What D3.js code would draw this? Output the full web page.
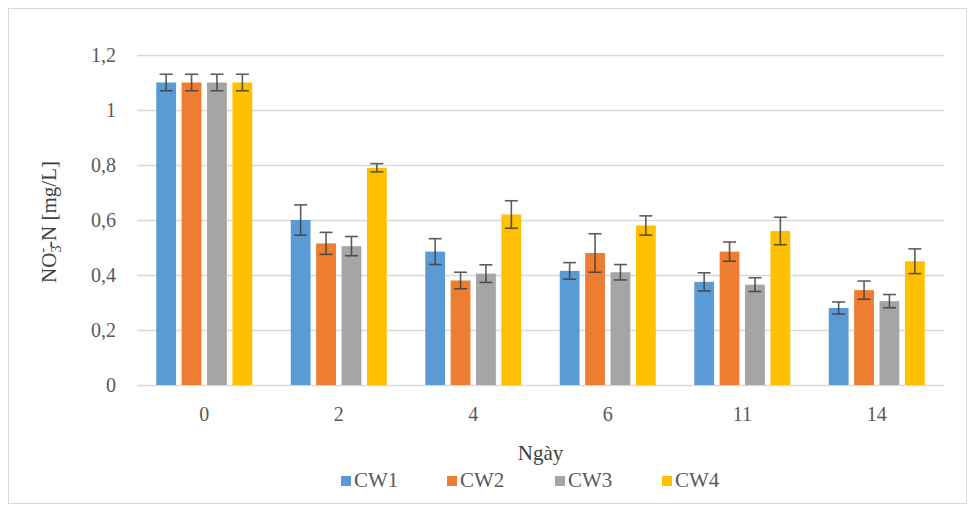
<!DOCTYPE html>
<html>
<head>
<meta charset="utf-8">
<script src="https://cdn.jsdelivr.net/npm/d3@7"></script>
<style>
  html, body { margin: 0; padding: 0; background: #fff; }
  svg { display: block; }
  svg text { font-family: "Liberation Serif", "DejaVu Serif", serif !important; }
</style>
</head>
<body>
<svg id="chart" width="969" height="509"></svg>
<script>
// Sampling days (x categories)
const days = ["0", "2", "4", "6", "11", "14"];
// Wetland series names
const seriesNames = ["CW1", "CW2", "CW3", "CW4"];
// NO3--N concentration (mg/L) per series, one value per day
const cw1 = [1.10, 0.60, 0.485, 0.415, 0.375, 0.28];
const cw2 = [1.10, 0.515, 0.38, 0.48, 0.485, 0.345];
const cw3 = [1.10, 0.505, 0.405, 0.41, 0.365, 0.305];
const cw4 = [1.10, 0.79, 0.62, 0.58, 0.56, 0.45];
// Standard deviations for the error bars
const cw1Err = [0.03, 0.055, 0.047, 0.03, 0.033, 0.022];
const cw2Err = [0.03, 0.04, 0.03, 0.07, 0.035, 0.033];
const cw3Err = [0.03, 0.035, 0.032, 0.028, 0.025, 0.024];
const cw4Err = [0.03, 0.015, 0.05, 0.035, 0.05, 0.045];
// Y axis tick values and their labels
const yTicks = [0, 0.2, 0.4, 0.6, 0.8, 1.0, 1.2];
const yTickLabels = ["0", "0,2", "0,4", "0,6", "0,8", "1", "1,2"];

const colors = ["#5B9BD5", "#ED7D31", "#A5A5A5", "#FFC000"];
const values = [cw1, cw2, cw3, cw4];
const errors = [cw1Err, cw2Err, cw3Err, cw4Err];
const serif = "'Liberation Serif', 'DejaVu Serif', serif";

const svg = d3.select("#chart");

// outer chart frame
svg.append("rect")
  .attr("x", 8.5).attr("y", 8.5)
  .attr("width", 958).attr("height", 495)
  .attr("fill", "#fff").attr("stroke", "#d9d9d9").attr("stroke-width", 1);

const plot = { left: 137, right: 944, top: 55, bottom: 385 };

const x0 = d3.scaleBand().domain(days).range([plot.left, plot.right]).paddingInner(0).paddingOuter(0);
const groupWidth = 96;
const x1 = d3.scaleBand().domain(seriesNames).range([0, groupWidth]).paddingInner(0.22).paddingOuter(0);
const y = d3.scaleLinear().domain([0, 1.2]).range([plot.bottom, plot.top]);

// horizontal gridlines
svg.append("g").selectAll("line").data(yTicks).join("line")
  .attr("x1", plot.left).attr("x2", plot.right)
  .attr("y1", d => Math.round(y(d)) + 0.5).attr("y2", d => Math.round(y(d)) + 0.5)
  .attr("stroke", "#d9d9d9").attr("stroke-width", 1.3);

// y tick labels
const yAxis = d3.axisLeft(y).tickValues(yTicks)
  .tickFormat((d, i) => yTickLabels[i]).tickSize(0).tickPadding(21);
const yg = svg.append("g").attr("transform", `translate(${plot.left},0)`).call(yAxis);
yg.attr("font-family", serif);
yg.select(".domain").remove();
yg.selectAll("text").attr("font-size", 20).style("font-family", serif).attr("fill", "#595959");

// x tick labels
const xAxis = d3.axisBottom(x0).tickSize(0).tickPadding(22);
const xg = svg.append("g").attr("transform", `translate(0,${plot.bottom})`).call(xAxis);
xg.attr("font-family", serif);
xg.select(".domain").remove();
xg.selectAll("text").attr("font-size", 20).style("font-family", serif).attr("fill", "#595959");

// bars with error bars
const groups = svg.append("g").selectAll("g").data(days).join("g")
  .attr("transform", d => `translate(${x0(d) + (x0.bandwidth() - groupWidth) / 2},0)`);

groups.each(function(day, di) {
  const g = d3.select(this);
  seriesNames.forEach((s, si) => {
    const v = values[si][di];
    const e = errors[si][di];
    const bx = x1(s);
    const bw = x1.bandwidth();
    g.append("rect")
      .attr("x", bx).attr("y", y(v))
      .attr("width", bw).attr("height", y(0) - y(v))
      .attr("fill", colors[si]);
    const cx = bx + bw / 2;
    const capHalf = 6.5;
    const eb = g.append("g").attr("stroke", "#404040").attr("stroke-width", 1.6).attr("opacity", 0.85);
    eb.append("line").attr("x1", cx).attr("x2", cx).attr("y1", y(v + e)).attr("y2", y(v - e));
    eb.append("line").attr("x1", cx - capHalf).attr("x2", cx + capHalf).attr("y1", y(v + e)).attr("y2", y(v + e));
    eb.append("line").attr("x1", cx - capHalf).attr("x2", cx + capHalf).attr("y1", y(v - e)).attr("y2", y(v - e));
  });
});

// y axis title: NO3−-N [mg/L]
const yTitle = svg.append("text")
  .attr("transform", `translate(56,${(plot.top + plot.bottom) / 2 + 2}) rotate(-90)`)
  .attr("text-anchor", "middle")
  .style("font-family", serif)
  .attr("font-size", 21).attr("fill", "#404040");
yTitle.append("tspan").text("NO");
yTitle.append("tspan").attr("font-size", 14).attr("dy", 5).text("3");
yTitle.append("tspan").attr("font-size", 14).attr("dy", -14).attr("dx", -7).text("-");
yTitle.append("tspan").attr("dy", 9).text("-N [mg/L]");

// x axis title
svg.append("text")
  .attr("x", (plot.left + plot.right) / 2).attr("y", 460)
  .attr("text-anchor", "middle")
  .style("font-family", serif)
  .attr("font-size", 21).attr("fill", "#404040")
  .text("Ngày");

// legend
const legendX = [341, 447, 555, 662];
const legend = svg.append("g").selectAll("g").data(seriesNames).join("g")
  .attr("transform", (d, i) => `translate(${legendX[i]},487)`);
legend.append("rect").attr("x", 0).attr("y", -11).attr("width", 10).attr("height", 10)
  .attr("fill", (d, i) => colors[i]);
legend.append("text").attr("x", 13).attr("y", 0)
  .style("font-family", serif)
  .attr("font-size", 21).attr("fill", "#595959")
  .text(d => d);
</script>
</body>
</html>
